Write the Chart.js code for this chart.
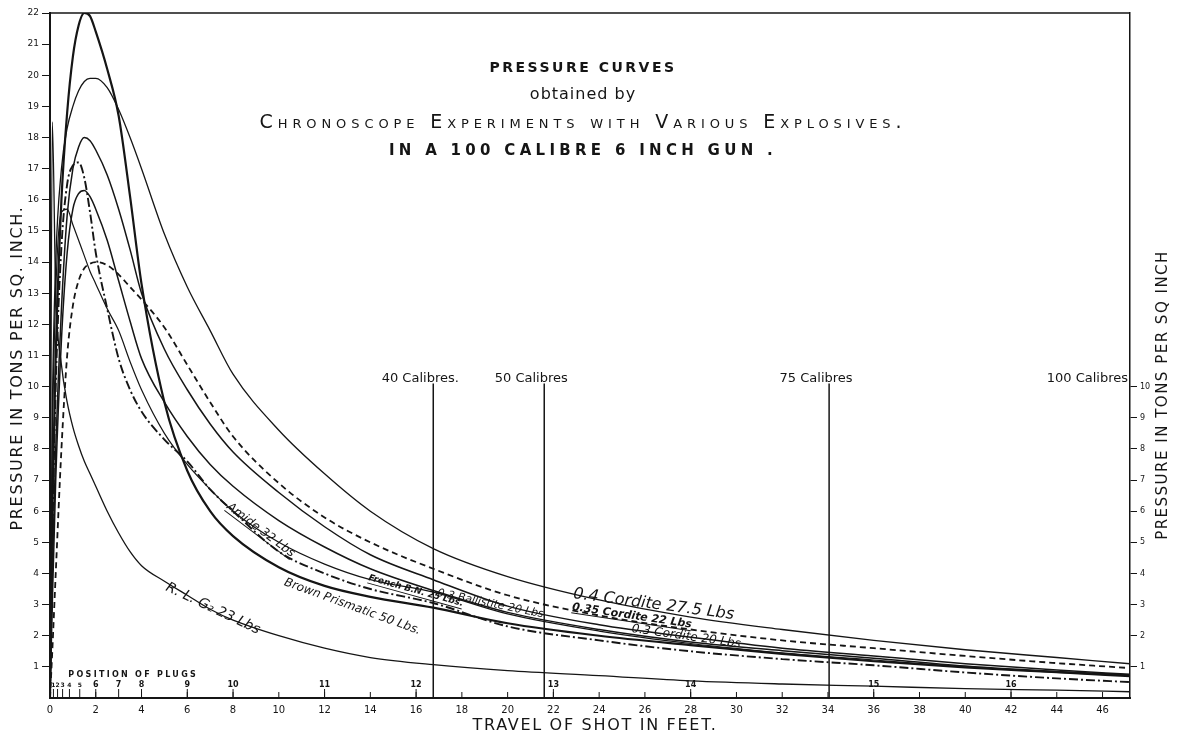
<!DOCTYPE html>
<html>
<head>
<meta charset="utf-8">
<title>Pressure curves</title>
<script src="https://cdn.jsdelivr.net/npm/chart.js@4.4.1/dist/chart.umd.min.js"></script>
<style>
  html, body { margin: 0; padding: 0; background: #fff; }
  #wrap { width: 1180px; height: 737px; }
</style>
</head>
<body>
<div id="wrap"><canvas id="chart" width="1180" height="737"></canvas></div>
<script>
const travel = [0, 0.1, 0.25, 0.5, 0.75, 1, 1.25, 1.5, 1.75, 2, 2.5, 3, 3.5, 4, 5, 6, 7, 8, 10, 12, 14, 16.75, 20, 24, 28, 32, 36, 40, 44, 47.2];

// pressure, tons per sq. inch
const cordite04 = [0, 9, 14, 17, 18.3, 19, 19.5, 19.8, 19.9, 19.9, 19.6, 18.9, 18.0, 17.0, 14.9, 13.2, 11.8, 10.4, 8.6, 7.2, 6.0, 4.8, 3.9, 3.15, 2.6, 2.2, 1.85, 1.55, 1.3, 1.1];
const cordite035 = [0, 1.5, 4, 8, 11, 12.6, 13.4, 13.8, 13.95, 14.0, 13.9, 13.6, 13.2, 12.8, 11.9, 10.7, 9.5, 8.4, 6.9, 5.8, 5.0, 4.15, 3.3, 2.65, 2.2, 1.85, 1.6, 1.35, 1.12, 0.96];
const cordite03 = [0, 4, 8, 12.5, 15.5, 17, 17.7, 18, 17.9, 17.6, 16.8, 15.7, 14.4, 13.0, 11.2, 9.9, 8.8, 7.9, 6.6, 5.5, 4.6, 3.8, 2.95, 2.35, 1.95, 1.6, 1.35, 1.1, 0.9, 0.76];
const ballistite = [0, 5, 10, 14.5, 16.5, 17.1, 17.2, 16.7, 15.6, 14.3, 12.5, 10.9, 9.9, 9.2, 8.3, 7.6, 6.7, 6.0, 4.7, 4.0, 3.5, 3.05, 2.3, 1.85, 1.5, 1.25, 1.05, 0.82, 0.63, 0.51];
const frenchBN = [0, 3, 7, 11.5, 14.3, 15.7, 16.2, 16.3, 16.1, 15.7, 14.7, 13.4, 12.1, 10.9, 9.5, 8.4, 7.5, 6.8, 5.7, 4.85, 4.15, 3.45, 2.75, 2.2, 1.8, 1.52, 1.28, 1.03, 0.85, 0.74];
const amide = [0, 8, 13, 15.6, 15.7, 15.2, 14.7, 14.2, 13.7, 13.3, 12.5, 11.8, 10.8, 9.9, 8.5, 7.5, 6.7, 6.0, 5.0, 4.3, 3.8, 3.4, 2.7, 2.15, 1.75, 1.45, 1.22, 1.0, 0.82, 0.72];
const brownPrismatic = [0, 6, 11, 16, 18.8, 20.6, 21.6, 22, 21.9, 21.4, 20.2, 18.7, 16.1, 13.3, 9.5, 7.3, 6.0, 5.2, 4.2, 3.6, 3.25, 2.9, 2.4, 2.0, 1.7, 1.42, 1.18, 0.98, 0.83, 0.7];
const rlg2 = [0, 18.5, 13, 10.7, 9.5, 8.7, 8.1, 7.6, 7.2, 6.8, 6.0, 5.3, 4.7, 4.25, 3.75, 3.3, 2.85, 2.5, 2.0, 1.6, 1.3, 1.07, 0.88, 0.72, 0.55, 0.45, 0.38, 0.3, 0.25, 0.2];

// calibre marks
const calibreNames = ['40 Calibres.', '50 Calibres', '75 Calibres', '100 Calibres'];
const calibreTravel = [16.75, 21.6, 34.05, 47.2];
const calibreTop = 10.1;

// position of plugs
const plugNumbers = [1, 2, 3, 4, 5, 6, 7, 8, 9, 10, 11, 12, 13, 14, 15, 16];
const plugTravel = [0.15, 0.33, 0.55, 0.85, 1.3, 2, 3, 4, 6, 8, 12, 16, 22, 28, 36, 42];

// tick labels
const xTickValues = [0, 2, 4, 6, 8, 10, 12, 14, 16, 18, 20, 22, 24, 26, 28, 30, 32, 34, 36, 38, 40, 42, 44, 46];
const yTickValues = [1, 2, 3, 4, 5, 6, 7, 8, 9, 10, 11, 12, 13, 14, 15, 16, 17, 18, 19, 20, 21, 22];
const rightTickValues = [1, 2, 3, 4, 5, 6, 7, 8, 9, 10];

const ink = '#151515';
const font = '"DejaVu Sans", sans-serif';

function pts(values) {
    return travel.map((t, i) => ({ x: t, y: values[i] }));
}

function curve(label, values, width, dash) {
    return {
        label: label,
        data: pts(values),
        borderColor: ink,
        borderWidth: width,
        borderDash: dash || [],
        pointRadius: 0,
        fill: false,
        cubicInterpolationMode: 'monotone'
    };
}

const datasets = [
    curve('0.4 Cordite 27.5 Lbs', cordite04, 1.3),
    curve('0.35 Cordite 22 Lbs', cordite035, 1.8, [6, 4]),
    curve('0.3 Cordite 20 Lbs', cordite03, 1.5),
    curve('0.3 Ballistite 20 Lbs', ballistite, 1.9, [9, 3, 2, 3]),
    curve('French B.N. 25 Lbs', frenchBN, 1.5),
    curve('Amide 32 Lbs', amide, 1.2),
    curve('Brown Prismatic 50 Lbs', brownPrismatic, 2.2),
    curve('R.L.G2 23 Lbs', rlg2, 1.3)
];

// vertical calibre lines
calibreTravel.forEach((c, i) => {
    datasets.push({
        label: calibreNames[i],
        data: [{ x: c, y: 0 }, { x: c, y: calibreTop }],
        borderColor: ink,
        borderWidth: 1.5,
        pointRadius: 0,
        fill: false
    });
});

// text written along the curves (feet, tons, degrees)
const curveLabels = [
    { text: '0.4 Cordite 27.5 Lbs', x: 22.85, y: 3.21, angle: 7.5, font: 'italic 16px ' + font },
    { text: '0.35 Cordite 22 Lbs', x: 22.8, y: 2.83, angle: 8.5, font: 'italic bold 11px ' + font, underline: true },
    { text: '0.3 Cordite 20 Lbs', x: 25.4, y: 2.12, angle: 8, font: 'italic 12px ' + font },
    { text: '0.3 Ballistite 20 Lbs', x: 16.9, y: 3.28, angle: 11.5, font: 'italic 11px ' + font },
    { text: 'French B.N. 25 Lbs.', x: 13.9, y: 3.79, angle: 15.5, font: 'italic bold 9px ' + font, underline: true },
    { text: 'Amide 32 Lbs', x: 7.7, y: 6.1, angle: 37, font: 'italic 12px ' + font, underline: true },
    { text: 'Brown Prismatic 50 Lbs.', x: 10.2, y: 3.63, angle: 20, font: 'italic 12px ' + font },
    { text: 'R. L. G\u2082 23 Lbs', x: 5.03, y: 3.47, angle: 25.5, font: 'italic 14px ' + font }
];

function spacedText(ctx, text, x, y, f, spacing) {
    ctx.font = f;
    ctx.letterSpacing = spacing + 'px';
    ctx.fillText(text, x, y);
    ctx.letterSpacing = '0px';
}

const overlay = {
    id: 'overlay',
    afterDatasetsDraw(chart) {
        const { ctx, chartArea: a, scales: { x, y } } = chart;
        ctx.save();
        ctx.fillStyle = ink;
        ctx.strokeStyle = ink;

        // top edge of the frame
        ctx.lineWidth = 1.5;
        ctx.beginPath();
        ctx.moveTo(a.left, a.top);
        ctx.lineTo(a.right, a.top);
        ctx.stroke();

        // feet ticks drawn inward
        ctx.lineWidth = 1;
        xTickValues.forEach(v => {
            if (v === 0) return;
            const px = x.getPixelForValue(v);
            ctx.beginPath();
            ctx.moveTo(px, a.bottom);
            ctx.lineTo(px, a.bottom - 6);
            ctx.stroke();
        });

        // plug positions
        ctx.textAlign = 'center';
        ctx.textBaseline = 'middle';
        plugTravel.forEach((t, i) => {
            const px = x.getPixelForValue(t);
            ctx.beginPath();
            ctx.moveTo(px, a.bottom);
            ctx.lineTo(px, a.bottom - 9);
            ctx.stroke();
            ctx.font = (i < 5 ? 'bold 6px ' : 'bold 8px ') + font;
            ctx.fillText(String(plugNumbers[i]), px, a.bottom - 13);
        });
        ctx.textAlign = 'left';
        spacedText(ctx, 'POSITION OF PLUGS', x.getPixelForValue(0.8), a.bottom - 23, 'bold 8px ' + font, 2.3);

        // calibre labels
        ctx.font = '13px ' + font;
        ctx.textBaseline = 'alphabetic';
        calibreTravel.forEach((c, i) => {
            const px = x.getPixelForValue(c);
            const py = y.getPixelForValue(calibreTop) - 2;
            if (i === calibreTravel.length - 1) {
                ctx.textAlign = 'right';
                ctx.fillText(calibreNames[i], px - 2, py);
            } else {
                ctx.textAlign = 'center';
                ctx.fillText(calibreNames[i], px - 13, py);
            }
        });

        // names along the curves
        ctx.textAlign = 'left';
        curveLabels.forEach(l => {
            ctx.save();
            ctx.translate(x.getPixelForValue(l.x), y.getPixelForValue(l.y));
            ctx.rotate(l.angle * Math.PI / 180);
            ctx.font = l.font;
            ctx.fillText(l.text, 0, 0);
            if (l.underline) {
                const w = ctx.measureText(l.text).width;
                ctx.lineWidth = 1;
                ctx.beginPath();
                ctx.moveTo(0, 3);
                ctx.lineTo(w, 3);
                ctx.stroke();
            }
            ctx.restore();
        });

        // heading
        const cx = 583;
        ctx.textAlign = 'center';
        ctx.textBaseline = 'middle';
        spacedText(ctx, 'PRESSURE CURVES', cx, 68, 'bold 14px ' + font, 2.5);
        spacedText(ctx, 'obtained by', cx, 95, '16px ' + font, 1);
        spacedText(ctx, 'Chronoscope Experiments with Various Explosives.', cx, 123, 'small-caps 19px ' + font, 4.9);
        spacedText(ctx, 'IN A 100 CALIBRE 6 INCH GUN .', cx, 151, 'bold 15px ' + font, 4.3);

        // axis titles
        spacedText(ctx, 'TRAVEL OF SHOT IN FEET.', 595, 726, '16px ' + font, 1.7);

        ctx.save();
        ctx.translate(18, 368);
        ctx.rotate(-Math.PI / 2);
        spacedText(ctx, 'PRESSURE IN TONS PER SQ. INCH.', 0, 0, '16px ' + font, 1.7);
        ctx.restore();

        ctx.save();
        ctx.translate(1163, 395);
        ctx.rotate(-Math.PI / 2);
        spacedText(ctx, 'PRESSURE IN TONS PER SQ INCH', 0, 0, '15px ' + font, 1.5);
        ctx.restore();

        ctx.restore();
    }
};

new Chart(document.getElementById('chart'), {
    type: 'line',
    data: { datasets: datasets },
    options: {
        responsive: false,
        animation: false,
        devicePixelRatio: 1,
        layout: { padding: { top: 13, left: 0, right: 0, bottom: 0 } },
        plugins: {
            legend: { display: false },
            tooltip: { enabled: false }
        },
        scales: {
            x: {
                type: 'linear',
                min: 0,
                max: 47.2,
                afterBuildTicks: scale => { scale.ticks = xTickValues.map(v => ({ value: v })); },
                afterFit: scale => { scale.height = 39; },
                ticks: {
                    autoSkip: false,
                    maxRotation: 0,
                    padding: 6,
                    color: ink,
                    font: { family: font, size: 10 }
                },
                grid: { display: true, drawOnChartArea: false, drawTicks: false, color: ink },
                border: { display: true, color: ink, width: 2 }
            },
            y: {
                min: 0,
                max: 22,
                afterBuildTicks: scale => { scale.ticks = yTickValues.map(v => ({ value: v })); },
                afterFit: scale => { scale.width = 50; },
                ticks: {
                    padding: 3,
                    color: ink,
                    font: { family: font, size: 9 }
                },
                grid: { display: true, drawOnChartArea: false, tickLength: 8, color: ink },
                border: { display: true, color: ink, width: 2 }
            },
            yRight: {
                axis: 'y',
                position: 'right',
                min: 0,
                max: 22,
                afterBuildTicks: scale => { scale.ticks = rightTickValues.map(v => ({ value: v })); },
                afterFit: scale => { scale.width = 50; },
                ticks: {
                    padding: 3,
                    color: ink,
                    font: { family: font, size: 8 }
                },
                grid: { display: true, drawOnChartArea: false, tickLength: 7, color: ink },
                border: { display: true, color: ink, width: 1.5 }
            }
        }
    },
    plugins: [overlay]
});
</script>
</body>
</html>
